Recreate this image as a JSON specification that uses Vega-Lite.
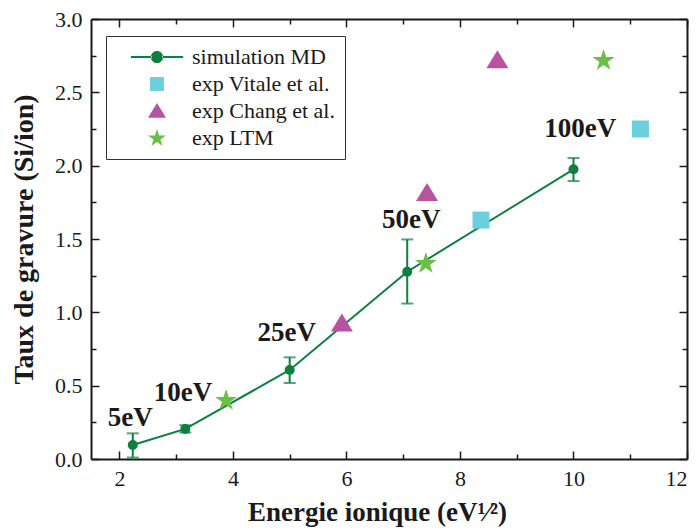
{
  "$schema": "https://vega.github.io/schema/vega-lite/v6.json",
  "width": 596,
  "height": 440,
  "autosize": {"type": "none"},
  "padding": {"left": 91, "top": 19, "right": 12, "bottom": 71},
  "background": "white",
  "config": {
    "view": {"stroke": null},
    "font": "Liberation Serif",
    "axis": {
      "domainColor": "#1a1a1a", "domainWidth": 2, "tickColor": "#1a1a1a", "tickWidth": 1.5,
      "grid": false, "labelFont": "Liberation Serif", "labelFontSize": 22, "labelColor": "#1a1a1a",
      "titleFont": "Liberation Serif", "titleFontSize": 27, "titleFontWeight": "bold", "titleColor": "#1a1a1a"
    }
  },
  "datasets": {
    "md": [
      {"x": 2.236, "y": 0.095, "lo": 0.01, "hi": 0.175, "series": "simulation MD"},
      {"x": 3.162, "y": 0.205, "lo": 0.18, "hi": 0.23, "series": "simulation MD"},
      {"x": 5.0, "y": 0.607, "lo": 0.518, "hi": 0.693, "series": "simulation MD"},
      {"x": 7.071, "y": 1.277, "lo": 1.06, "hi": 1.497, "series": "simulation MD"},
      {"x": 10.0, "y": 1.975, "lo": 1.895, "hi": 2.052, "series": "simulation MD"}
    ],
    "exp": [
      {"x": 8.37, "y": 1.629, "series": "exp Vitale et al."},
      {"x": 11.18, "y": 2.25, "series": "exp Vitale et al."},
      {"x": 5.92, "y": 0.925, "series": "exp Chang et al."},
      {"x": 7.42, "y": 1.815, "series": "exp Chang et al."},
      {"x": 8.66, "y": 2.72, "series": "exp Chang et al."},
      {"x": 3.88, "y": 0.402, "series": "exp LTM"},
      {"x": 7.4, "y": 1.336, "series": "exp LTM"},
      {"x": 10.53, "y": 2.72, "series": "exp LTM"}
    ],
    "labels": [
      {"x": 2.19, "y": 0.28, "text": "5eV"},
      {"x": 3.12, "y": 0.45, "text": "10eV"},
      {"x": 4.95, "y": 0.86, "text": "25eV"},
      {"x": 7.14, "y": 1.63, "text": "50eV"},
      {"x": 10.12, "y": 2.25, "text": "100eV"}
    ]
  },
  "resolve": {"axis": {"x": "independent", "y": "independent"}},
  "layer": [
    {
      "data": {"name": "md"},
      "mark": {"type": "line", "color": "#0b8040", "strokeWidth": 2},
      "encoding": {
        "x": {"field": "x", "type": "quantitative", "scale": {"domain": [1.5, 12], "nice": false, "zero": false},
              "axis": {"orient": "bottom", "values": [2, 3, 4, 5, 6, 7, 8, 9, 10, 11, 12],
                       "tickSize": {"condition": {"test": "datum.value % 2 === 0", "value": -8}, "value": -5},
                       "labelExpr": "datum.value % 2 === 0 ? datum.label : ''",
                       "title": "Energie ionique (eV¹⁄²)", "labelPadding": 17, "titlePadding": 10, "titleX": 286}},
        "y": {"field": "y", "type": "quantitative", "scale": {"domain": [0, 3], "nice": false},
              "axis": {"orient": "left", "values": [0, 0.25, 0.5, 0.75, 1, 1.25, 1.5, 1.75, 2, 2.25, 2.5, 2.75, 3], "format": ".1f",
                       "tickSize": {"condition": {"test": "(datum.value * 2) % 1 === 0", "value": -8}, "value": -5},
                       "labelExpr": "(datum.value * 2) % 1 === 0 ? datum.label : ''",
                       "title": "Taux de gravure (Si/ion)", "titleFontSize": 28, "labelPadding": 17, "titlePadding": 16}}
      }
    },
    {
      "data": {"name": "md"},
      "mark": {"type": "errorbar", "ticks": {"size": 12, "thickness": 2, "color": "#0b8040"}, "rule": {"strokeWidth": 2, "color": "#0b8040"}},
      "encoding": {
        "x": {"field": "x", "type": "quantitative", "axis": null},
        "y": {"field": "lo", "type": "quantitative", "axis": null},
        "y2": {"field": "hi"}
      }
    },
    {
      "data": {"name": "md"},
      "mark": {"type": "point", "shape": "circle", "filled": true, "opacity": 1, "size": 100},
      "encoding": {
        "x": {"field": "x", "type": "quantitative",
              "axis": {"orient": "top", "values": [2, 3, 4, 5, 6, 7, 8, 9, 10, 11, 12],
                       "tickSize": {"condition": {"test": "datum.value % 2 === 0", "value": -8}, "value": -5},
                       "labels": false, "title": null}},
        "y": {"field": "y", "type": "quantitative",
              "axis": {"orient": "right", "values": [0, 0.25, 0.5, 0.75, 1, 1.25, 1.5, 1.75, 2, 2.25, 2.5, 2.75, 3],
                       "tickSize": {"condition": {"test": "(datum.value * 2) % 1 === 0", "value": -8}, "value": -5},
                       "labels": false, "title": null}},
        "color": {"field": "series", "type": "nominal"}
      }
    },
    {
      "data": {"name": "exp"},
      "mark": {"type": "point", "filled": true, "opacity": 1, "size": 484},
      "encoding": {
        "x": {"field": "x", "type": "quantitative", "axis": null},
        "y": {"field": "y", "type": "quantitative", "axis": null},
        "color": {"field": "series", "type": "nominal",
                  "scale": {"domain": ["simulation MD", "exp Vitale et al.", "exp Chang et al.", "exp LTM"],
                            "range": ["#0b8040", "#6ccfdc", "#b9529f", "#6abf45"]},
                  "legend": {"title": null, "orient": "none", "legendX": 15, "legendY": 17, "symbolSize": 324,
                             "labelFont": "Liberation Serif", "labelFontSize": 22, "labelColor": "#1a1a1a",
                             "strokeColor": "#333333", "padding": 10, "symbolOffset": 30, "labelOffset": 24,
                             "rowPadding": 5}},
        "shape": {"field": "series", "type": "nominal",
                  "scale": {"domain": ["simulation MD", "exp Vitale et al.", "exp Chang et al.", "exp LTM"],
                            "range": ["M-2.9,-0.12H-0.6V0.12H-2.9Z M0.6,-0.12H2.9V0.12H0.6Z M-0.68,0A0.68,0.68 0 1,0 0.68,0A0.68,0.68 0 1,0 -0.68,0Z",
                                      "M-0.77,-0.77H0.77V0.77H-0.77Z",
                                      "M0,-0.9L1,0.75L-1,0.75Z",
                                      "M0,-1L0.235,-0.28L1,-0.28L0.38,0.165L0.62,0.88L0,0.44L-0.62,0.88L-0.38,0.165L-1,-0.28L-0.235,-0.28Z"]}}
      }
    },
    {
      "data": {"name": "labels"},
      "mark": {"type": "text", "font": "Liberation Serif", "fontSize": 27, "fontWeight": "bold", "color": "#1a1a1a", "baseline": "middle", "align": "center"},
      "encoding": {
        "x": {"field": "x", "type": "quantitative", "axis": null},
        "y": {"field": "y", "type": "quantitative", "axis": null},
        "text": {"field": "text"}
      }
    }
  ]
}
